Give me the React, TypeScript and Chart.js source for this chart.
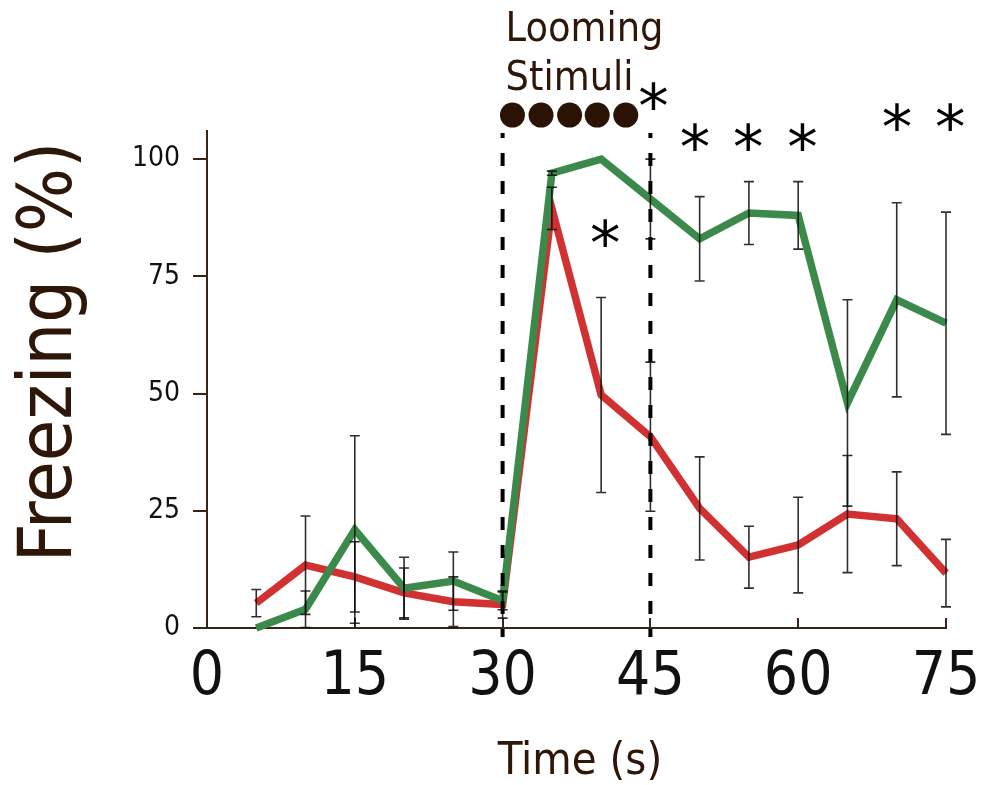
import React, { useEffect, useRef } from 'react';
import { Chart, registerables } from 'chart.js';

Chart.register(...registerables);

// ---- data ----
const timePoints = [5, 10, 15, 20, 25, 30, 35, 40, 45, 50, 55, 60, 65, 70, 75];
const greenFreezing = [0, 4, 21, 8.5, 10, 5.8, 97, 100, 91.5, 83, 88.5, 88, 48, 70, 65];
const greenSem = [0, 3.9, 20, 6.6, 6.2, 1.9, 0.45, 0, 8.5, 9, 6.7, 7.2, 22, 20.7, 23.7];
const redFreezing = [5.3, 13.4, 10.9, 7.5, 5.6, 5, 89.5, 49.7, 40.8, 25.5, 15.1, 17.7, 24.3, 23.3, 11.7];
const redSem = [2.9, 10.5, 7.5, 5.3, 5.3, 2.9, 4.5, 20.8, 15.9, 11, 6.6, 10.2, 12.5, 10, 7.2];

const xTickValues = [0, 15, 30, 45, 60, 75];
const yTickValues = [0, 25, 50, 75, 100];

const stimulusWindow = [30, 45];
const stimulusTimes = [31, 33.9, 36.8, 39.6, 42.5];
const stimulusLevel = 109.4;
const stimulusLabelLines = ['Looming', 'Stimuli'];

const sigX = [45.3, 40.4, 49.5, 54.9, 60.4, 70.0, 75.4];
const sigY = [113.4, 84.2, 104.7, 104.7, 104.7, 109, 109];

const xTitle = 'Time (s)';
const yTitle = 'Freezing (%)';

const GREEN = '#3b8a4c';
const RED = '#d13131';
const BROWN = '#2e1608';
const AXIS = '#3c2314';
const FONT = '"DejaVu Sans", "Liberation Sans", sans-serif';
const CFONT = '"DejaVu Sans Condensed", "DejaVu Sans", sans-serif';

function drawStar(ctx: CanvasRenderingContext2D, cx: number, cy: number, targetH: number) {
  ctx.font = `100px ${FONT}`;
  const m = ctx.measureText('*');
  const h = m.actualBoundingBoxAscent + m.actualBoundingBoxDescent;
  const size = (100 * targetH) / (h || 35);
  ctx.font = `${size}px ${FONT}`;
  const m2 = ctx.measureText('*');
  ctx.textAlign = 'left';
  ctx.textBaseline = 'alphabetic';
  const x = cx - (m2.actualBoundingBoxRight - m2.actualBoundingBoxLeft) / 2;
  const y = cy + (m2.actualBoundingBoxAscent - m2.actualBoundingBoxDescent) / 2;
  ctx.fillText('*', x, y);
}

const overlayPlugin = {
  id: 'overlay',
  afterDatasetsDraw(chart: any) {
    const ctx: CanvasRenderingContext2D = chart.ctx;
    const xs = chart.scales.x;
    const ys = chart.scales.y;
    const area = chart.chartArea;
    ctx.save();

    // inward x ticks
    ctx.strokeStyle = AXIS;
    ctx.lineWidth = 2;
    xTickValues.forEach((v) => {
      const px = Math.round(xs.getPixelForValue(v));
      ctx.beginPath();
      ctx.moveTo(px, area.bottom);
      ctx.lineTo(px, area.bottom - 10);
      ctx.stroke();
    });

    // error bars
    ctx.strokeStyle = 'rgba(10,10,10,0.85)';
    ctx.lineWidth = 1.6;
    const drawErr = (vals: number[], sems: number[]) => {
      timePoints.forEach((t, i) => {
        const s = sems[i];
        if (!s) return;
        const px = xs.getPixelForValue(t);
        const top = ys.getPixelForValue(vals[i] + s);
        const bot = ys.getPixelForValue(vals[i] - s);
        ctx.beginPath();
        ctx.moveTo(px, top);
        ctx.lineTo(px, bot);
        ctx.moveTo(px - 5, top);
        ctx.lineTo(px + 5, top);
        ctx.moveTo(px - 5, bot);
        ctx.lineTo(px + 5, bot);
        ctx.stroke();
      });
    };
    drawErr(greenFreezing, greenSem);
    drawErr(redFreezing, redSem);

    // dashed stimulus window lines
    ctx.strokeStyle = '#000';
    ctx.lineWidth = 4;
    ctx.setLineDash([13, 15]);
    ctx.lineDashOffset = 8;
    stimulusWindow.forEach((v) => {
      const px = xs.getPixelForValue(v);
      ctx.beginPath();
      ctx.moveTo(px, 133);
      ctx.lineTo(px, area.bottom + 9);
      ctx.stroke();
    });
    ctx.setLineDash([]);

    // stimulus dots
    ctx.fillStyle = '#2a1205';
    stimulusTimes.forEach((t) => {
      ctx.beginPath();
      ctx.arc(xs.getPixelForValue(t), ys.getPixelForValue(stimulusLevel), 12.5, 0, Math.PI * 2);
      ctx.fill();
    });

    // stimulus label
    ctx.fillStyle = BROWN;
    ctx.font = `41px ${CFONT}`;
    ctx.textAlign = 'left';
    ctx.textBaseline = 'alphabetic';
    const lx = xs.getPixelForValue(stimulusWindow[0]) + 3;
    ctx.fillText(stimulusLabelLines[0], lx, 41);
    ctx.fillText(stimulusLabelLines[1], lx, 90);

    // significance asterisks
    ctx.fillStyle = '#000';
    sigX.forEach((x, i) => {
      drawStar(ctx, xs.getPixelForValue(x), ys.getPixelForValue(sigY[i]), 28);
    });

    // axis titles
    ctx.fillStyle = BROWN;
    ctx.font = `45px ${CFONT}`;
    ctx.textAlign = 'center';
    ctx.textBaseline = 'alphabetic';
    ctx.fillText(xTitle, 580, 774);

    ctx.save();
    ctx.translate(71, 352);
    ctx.rotate(-Math.PI / 2);
    ctx.font = `75px ${CFONT}`;
    ctx.textAlign = 'center';
    ctx.textBaseline = 'alphabetic';
    ctx.fillText(yTitle, 0, 0);
    ctx.restore();

    ctx.restore();
  },
};

export default function App() {
  const ref = useRef<HTMLCanvasElement | null>(null);

  useEffect(() => {
    if (!ref.current) return;
    Chart.defaults.font.family = FONT;
    const chart = new Chart(ref.current, {
      type: 'line',
      data: {
        datasets: [
          {
            label: 'green',
            data: timePoints.map((t, i) => ({ x: t, y: greenFreezing[i] })),
            borderColor: GREEN,
            borderWidth: 7.5,
            pointRadius: 0,
            tension: 0,
            clip: false as any,
          },
          {
            label: 'red',
            data: timePoints.map((t, i) => ({ x: t, y: redFreezing[i] })),
            borderColor: RED,
            borderWidth: 7.5,
            pointRadius: 0,
            tension: 0,
            clip: false as any,
          },
        ],
      },
      options: {
        animation: false,
        responsive: false,
        devicePixelRatio: 1,
        layout: { padding: { left: 0, right: 35, top: 131, bottom: 0 } },
        plugins: { legend: { display: false }, tooltip: { enabled: false } },
        scales: {
          x: {
            type: 'linear',
            min: 0,
            max: 75,
            afterBuildTicks: (s: any) => {
              s.ticks = xTickValues.map((v) => ({ value: v }));
            },
            afterFit: (s: any) => {
              s.height = 157;
              s.paddingLeft = 0;
              s.paddingRight = 0;
            },
            grid: { display: false, drawTicks: false, tickLength: 0 },
            border: { display: true, color: AXIS, width: 2 },
            ticks: {
              autoSkip: false,
              maxRotation: 0,
              padding: 14,
              color: '#111',
              font: { size: 60, family: CFONT },
            },
          },
          y: {
            type: 'linear',
            min: 0,
            max: 106,
            afterBuildTicks: (s: any) => {
              s.ticks = yTickValues.map((v) => ({ value: v }));
            },
            afterFit: (s: any) => {
              s.width = 207;
              s.paddingTop = 0;
              s.paddingBottom = 0;
            },
            grid: {
              display: true,
              drawOnChartArea: false,
              drawTicks: true,
              tickLength: 14,
              color: AXIS,
              lineWidth: 2,
            },
            border: { display: true, color: AXIS, width: 2 },
            ticks: {
              autoSkip: false,
              padding: 13,
              color: '#111',
              font: { size: 28, family: CFONT },
            },
          },
        },
      },
      plugins: [overlayPlugin],
    });
    return () => chart.destroy();
  }, []);

  return (
    <div style={{ position: 'fixed', left: 0, top: 0, width: 981, height: 785, background: '#fff' }}>
      <canvas ref={ref} width={981} height={785} style={{ display: 'block' }} />
    </div>
  );
}
